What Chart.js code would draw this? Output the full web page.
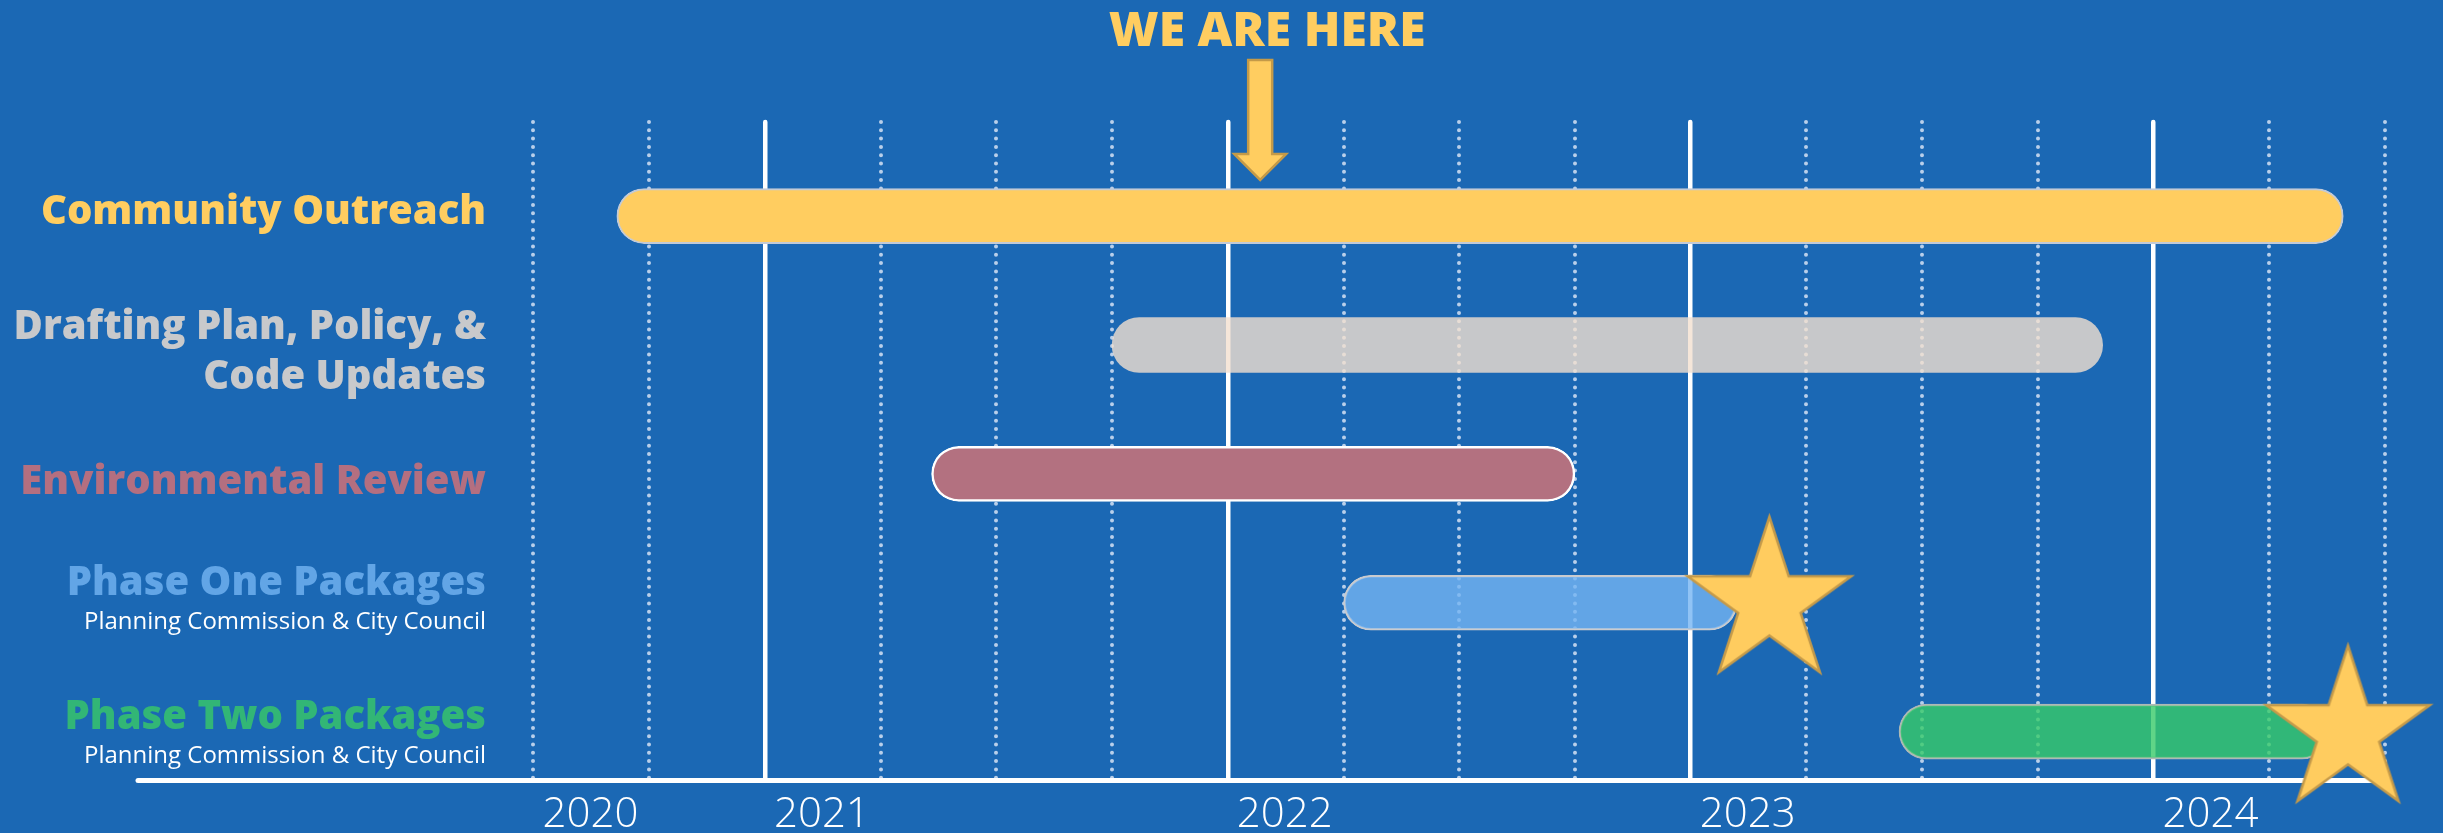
<!DOCTYPE html>
<html>
<head>
<meta charset="utf-8">
<title>Project timeline</title>
<script src="https://cdn.jsdelivr.net/npm/chart.js@4.4.1/dist/chart.umd.min.js"></script>
<style>
  html, body { margin: 0; padding: 0; background: #1B68B4; }
  #wrap { width: 2443px; height: 833px; position: relative; }
</style>
</head>
<body>
<div id="wrap"><canvas id="timeline"></canvas></div>
<script>
// tasks, top to bottom (dates as decimal years)
const taskNames = ['Community Outreach', ['Drafting Plan, Policy, &', 'Code Updates'], 'Environmental Review', 'Phase One Packages', 'Phase Two Packages'];
const taskNotes = ['', '', '', 'Planning Commission & City Council', 'Planning Commission & City Council'];
const taskStarts = [2020.68, 2021.75, 2021.36, 2022.25, 2023.45];
const taskEnds   = [2024.41, 2023.89, 2022.75, 2023.10, 2024.38];

// milestone stars
const milestoneRows  = [3, 4];
const milestoneDates = [2023.17, 2024.42];

// axis: year labels, solid year lines, dotted quarter lines
const yearLabels  = ['2020', '2021', '2022', '2023', '2024'];
const yearLabelAt = [2020.5, 2021, 2022, 2023, 2024];
const yearLines   = [2021, 2022, 2023, 2024];
const quarterLines = [2020.5, 2020.75, 2021.25, 2021.5, 2021.75, 2022.25, 2022.5, 2022.75, 2023.25, 2023.5, 2023.75, 2024.25, 2024.5];
const weAreHere = 2022.07;

const labelColors = ['#FFCD60', '#C8C9CB', '#B46F80', '#62A5E6', '#32B676'];
// bars 2, 4, 5 let the grid show through a little, as in the slide
const barFills   = ['#FFCD60', 'rgba(242,224,208,0.8)', '#B37180', 'rgba(116,180,243,0.8)', 'rgba(55,202,105,0.8)'];
const barBorders = ['#C3CAD6', 'rgba(0,0,0,0)', '#FFFFFF', '#C9CBCF', '#AEB9B5'];
const barBorderW = [2, 0, 2.5, 2, 2];

function makeStar(r, fill, stroke, lw) {
  const size = Math.ceil(2 * r + 2 * lw + 6);
  const c = document.createElement('canvas');
  c.width = size; c.height = size;
  const g = c.getContext('2d');
  const cx = size / 2, cy = size / 2, ri = r * 0.382;
  g.beginPath();
  for (let k = 0; k < 10; k++) {
    const rad = k % 2 ? ri : r;
    const a = -Math.PI / 2 + k * Math.PI / 5;
    g.lineTo(cx + rad * Math.cos(a), cy + rad * Math.sin(a));
  }
  g.closePath();
  g.fillStyle = fill; g.fill();
  g.lineJoin = 'miter'; g.lineWidth = lw; g.strokeStyle = stroke; g.stroke();
  return c;
}
const starImg = makeStar(86, '#FFCC5F', '#C49A4A', 2.5);

// dotted grid needs round caps
const roundCaps = { id: 'roundCaps', beforeDraw(chart) { chart.ctx.lineCap = 'round'; } };

// row labels on the left + "we are here" marker
const taskLabels = {
  id: 'taskLabels',
  afterDraw(chart) {
    const { ctx, scales: { x, y } } = chart;
    const right = 486;
    const nudge = [0, -3, 12, -5, 0];
    ctx.save();
    ctx.textAlign = 'right';
    ctx.textBaseline = 'alphabetic';
    taskNames.forEach((name, i) => {
      const cy = y.getPixelForValue(i) + nudge[i];
      const lines = Array.isArray(name) ? name : [name];
      ctx.fillStyle = labelColors[i];
      ctx.font = '800 40px "Open Sans"';
      if (lines.length === 2) {
        ctx.fillText(lines[0], right, cy - 3);
        ctx.fillText(lines[1], right, cy + 47);
      } else if (taskNotes[i]) {
        ctx.fillText(lines[0], right, cy - 3);
        ctx.fillStyle = '#FFFFFF';
        ctx.font = '400 24px "Open Sans"';
        ctx.fillText(taskNotes[i], right, cy + 31);
      } else {
        ctx.fillText(lines[0], right, cy + 8);
      }
    });

    const ax = x.getPixelForValue(weAreHere);
    ctx.textAlign = 'center';
    ctx.fillStyle = '#FFCD60';
    ctx.font = '800 48px "Open Sans"';
    ctx.fillText('WE ARE HERE', ax + 7, 46);

    ctx.beginPath();
    ctx.moveTo(ax - 12, 60); ctx.lineTo(ax + 12, 60); ctx.lineTo(ax + 12, 154);
    ctx.lineTo(ax + 26, 154); ctx.lineTo(ax, 180); ctx.lineTo(ax - 26, 154);
    ctx.lineTo(ax - 12, 154); ctx.closePath();
    ctx.fillStyle = '#FFCD60'; ctx.fill();
    ctx.lineJoin = 'miter'; ctx.lineWidth = 2.5; ctx.strokeStyle = '#C49A48'; ctx.stroke();
    ctx.restore();
  }
};

new Chart(document.getElementById('timeline'), {
  type: 'bar',
  data: {
    datasets: [
      {
        type: 'scatter', order: 0, clip: false, xAxisID: 'x', yAxisID: 'y',
        data: milestoneDates.map((d, i) => ({ x: d, y: milestoneRows[i] })),
        pointStyle: starImg, pointRadius: 40, pointHoverRadius: 40
      },
      {
        type: 'bar', order: 1, indexAxis: 'y', xAxisID: 'x', yAxisID: 'y',
        data: taskStarts.map((s, i) => ({ x: [s, taskEnds[i]], y: i })),
        backgroundColor: barFills, borderColor: barBorders, borderWidth: barBorderW,
        borderSkipped: false, borderRadius: 28, barThickness: 55
      }
    ]
  },
  options: {
    responsive: true, maintainAspectRatio: false, animation: false, events: [],
    layout: { padding: { left: 140, right: 58, top: 122, bottom: 0 } },
    plugins: { legend: { display: false }, tooltip: { enabled: false } },
    scales: {
      x: {
        type: 'linear', position: 'bottom', min: 2019.65, max: 2024.5, offset: false,
        afterBuildTicks: s => { s.ticks = yearLabelAt.map(v => ({ value: v })); },
        afterFit: s => { s.height = 53; },
        grid: {
          offset: false, drawTicks: false, lineWidth: 4.5,
          color: c => (c.tick && yearLines.includes(c.tick.value)) ? '#FFFFFF' : 'rgba(0,0,0,0)'
        },
        border: { display: true, color: '#FFFFFF', width: 5 },
        ticks: {
          autoSkip: false, maxRotation: 0, labelOffset: 57, padding: 10, color: '#FFFFFF',
          font: { family: 'Open Sans', size: 42, weight: '300' },
          callback: (v, i) => yearLabels[i]
        }
      },
      q: {
        type: 'linear', position: 'bottom', min: 2019.65, max: 2024.5, offset: false,
        afterBuildTicks: s => { s.ticks = quarterLines.map(v => ({ value: v })); },
        ticks: { display: false },
        grid: { offset: false, drawTicks: false, lineWidth: 4, color: '#B9CFEA' },
        border: { display: false, dash: [0, 8.3] }
      },
      y: {
        type: 'linear', display: false, reverse: true, min: -0.73, max: 4.375, offset: false,
        grid: { offset: false }
      }
    }
  },
  plugins: [roundCaps, taskLabels]
});
</script>
</body>
</html>
